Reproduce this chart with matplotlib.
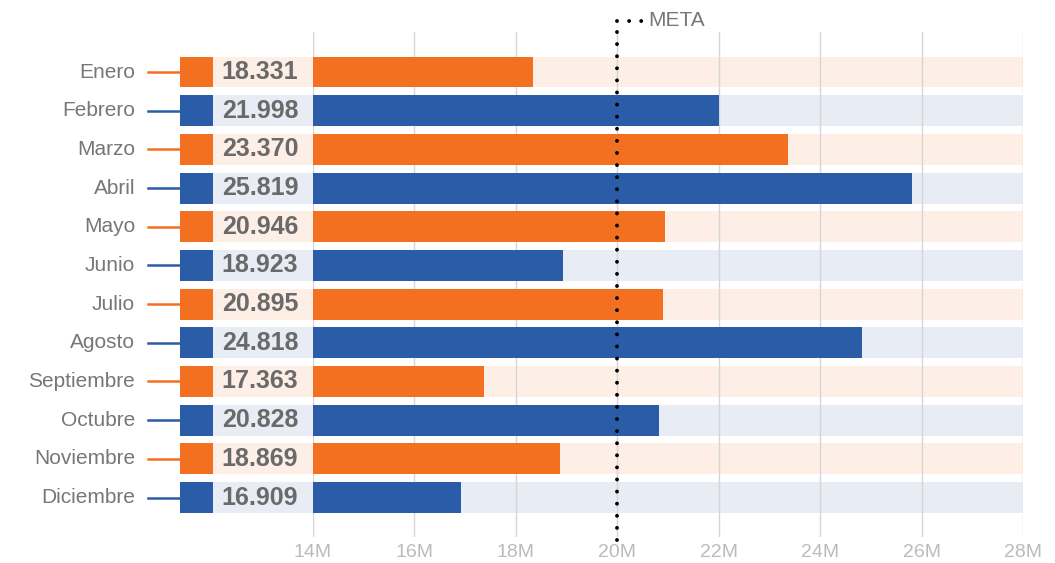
import matplotlib
matplotlib.use("Agg")
import matplotlib.pyplot as plt
from matplotlib import font_manager

meses = ["Enero", "Febrero", "Marzo", "Abril", "Mayo", "Junio", "Julio",
         "Agosto", "Septiembre", "Octubre", "Noviembre", "Diciembre"]
ventas = [18.331, 21.998, 23.370, 25.819, 20.946, 18.923, 20.895,
          24.818, 17.363, 20.828, 18.869, 16.909]
meta = 20
ticks = [14, 16, 18, 20, 22, 24, 26, 28]
tick_labels = ["14M", "16M", "18M", "20M", "22M", "24M", "26M", "28M"]

naranja = "#f37021"
azul = "#2b5ca8"
tinte_naranja = "#fdefe6"
tinte_azul = "#e8edf5"
gris = "#777777"

nombres = {f.name for f in font_manager.fontManager.ttflist}
fuente = "Liberation Sans" if "Liberation Sans" in nombres else "DejaVu Sans"
plt.rcParams["font.family"] = [fuente, "DejaVu Sans"]

W, H = 1055, 563
fig = plt.figure(figsize=(W / 100, H / 100), dpi=100)

# ejes en pixeles: principal 313-1023, caja izquierda 180-313, vertical 32-537
y0, y1 = 32, 537
ax = fig.add_axes([313 / W, 1 - y1 / H, 710 / W, (y1 - y0) / H])
axl = fig.add_axes([180 / W, 1 - y1 / H, 133 / W, (y1 - y0) / H], sharey=ax)

pos = list(range(len(meses)))
colores = [naranja if i % 2 == 0 else azul for i in pos]
tintes = [tinte_naranja if i % 2 == 0 else tinte_azul for i in pos]
alto = 0.8

ax.barh(pos, [ticks[-1]] * len(pos), height=alto, color=tintes, zorder=0.2)
ax.barh(pos, ventas, height=alto, color=colores, zorder=2)
ax.set_xlim(ticks[0], ticks[-1])
ax.set_ylim(12.02, -1.034)
ax.set_xticks(ticks)
ax.set_xticklabels(tick_labels)
ax.tick_params(axis="x", length=0, pad=5, labelsize=14, labelcolor="#bbbbbb")
ax.set_yticks([])
ax.set_axisbelow(True)
ax.grid(axis="x", color="#d6d6d6", linewidth=1)
for s in ax.spines.values():
    s.set_visible(False)

# linea de meta punteada con su etiqueta arriba
punteo = dict(color="black", linewidth=2.8, linestyle=(0, (0.01, 3.1)),
              dash_capstyle="round", clip_on=False, zorder=5,
              transform=ax.get_xaxis_transform())
y_meta = 1.022
ax.plot([meta, meta], [-0.006, y_meta], **punteo)
ax.plot([meta, meta + 0.49], [y_meta, y_meta], **punteo)
ax.text(meta + 0.62, y_meta, "META", transform=ax.get_xaxis_transform(),
        fontsize=15, color=gris, va="center", ha="left")

# caja izquierda: cuadro de color, fondo tenue y valor
axl.set_xlim(0, 133)
axl.axis("off")
for i in pos:
    axl.barh(i, 133, height=alto, color=tintes[i], zorder=1)
    axl.barh(i, 33, height=alto, color=colores[i], zorder=2)
    axl.plot([-32, 0], [i, i], color=colores[i], linewidth=1.8, clip_on=False)
    axl.text(-45, i, meses[i], ha="right", va="center", fontsize=15,
             color=gris, clip_on=False)
    axl.text(80, i, f"{ventas[i]:.3f}", ha="center", va="center", fontsize=18,
             fontweight="bold", color="#6a6a6a")

fig.savefig("out.png", dpi=100)
